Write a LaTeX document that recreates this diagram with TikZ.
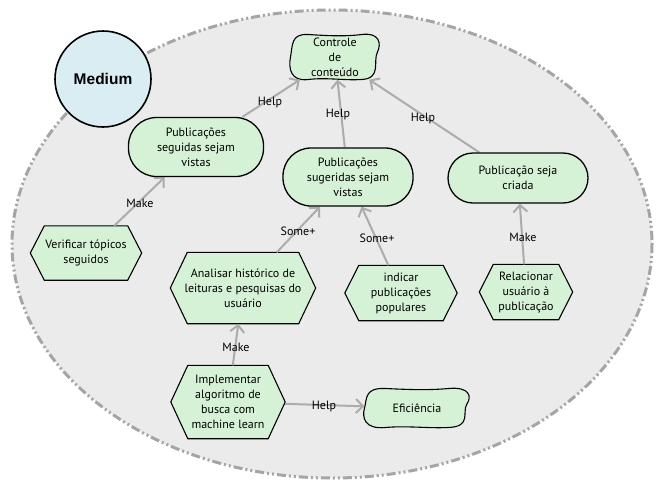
\documentclass[tikz,border=0pt]{standalone}
\usepackage{fontspec}
\setmainfont{PT Sans}
\newfontfamily\medfont{Liberation Sans}
\usetikzlibrary{arrows.meta,shapes.misc,shapes.geometric}
\definecolor{goalfill}{RGB}{214,242,214}
\definecolor{actorfill}{RGB}{217,237,243}
\definecolor{bgfill}{RGB}{235,235,235}
\definecolor{bord}{RGB}{165,165,165}
\definecolor{linkc}{RGB}{172,172,172}
\pgfdeclarelayer{background}
\pgfsetlayers{background,main}
\tikzset{
  txt/.style={font=\fontsize{12}{15}\selectfont, align=center, inner sep=0pt},
  goal/.style={txt, rectangle, rounded corners=28pt, draw=black, line width=1.3pt, fill=goalfill},
  tasknode/.style={txt, rectangle},
  softnode/.style={txt, rectangle},
  shapedraw/.style={draw=black, line width=1.1pt, fill=goalfill},
  link/.style={draw=linkc, line width=2pt, -{Straight Barb[length=7pt,width=14pt]}},
  lbl/.style={font=\fontsize{12}{14}\selectfont, inner sep=0pt},
}
\newcommand\hexa[2]{%
  \draw[shapedraw] ([xshift=#2]#1.north west) -- ([xshift=-#2]#1.north east) -- (#1.east)
    -- ([xshift=-#2]#1.south east) -- ([xshift=#2]#1.south west) -- (#1.west) -- cycle;}
\newcommand\cloud[3]{%
  \draw[shapedraw, shift={(#1.center)}, xscale=#2, yscale=#3]
    (-0.6,-1) .. controls (-0.2,-0.95) and (0.2,-0.9) .. (0.6,-1)
    .. controls (1.0,-1.1) and (1.05,-0.6) .. (0.95,-0.2)
    .. controls (0.85,0.2) and (1.05,0.95) .. (0.6,1)
    .. controls (0.2,1.05) and (-0.2,0.9) .. (-0.6,1)
    .. controls (-1.0,1.1) and (-1.05,0.5) .. (-1,0)
    .. controls (-0.95,-0.5) and (-1.0,-1.05) .. (-0.6,-1) -- cycle;}
\begin{document}
\begin{tikzpicture}[x=1pt,y=-1pt]
\useasboundingbox (0,0) rectangle (656,491);
\begin{pgfonlayer}{background}
  \draw[draw=bord, fill=bgfill, line width=3pt,
        dash pattern=on 9pt off 3pt on 2pt off 3pt on 2pt off 3pt]
    (332,244) ellipse [x radius=320, y radius=234];
\end{pgfonlayer}

% actor
\node[circle, draw=black, line width=1.6pt, fill=actorfill, minimum size=96pt, inner sep=0pt]
  (medium) at (103,79) {\medfont\bfseries\fontsize{15.5}{18}\selectfont Medium};

% softgoals
\node[softnode, minimum width=89pt, minimum height=45pt] (ctrl) at (335,57) {Controle\\de\\conteúdo};
\node[softnode, minimum width=105pt, minimum height=39pt] (efic) at (417,408) {Eficiência};

% goals
\node[goal, minimum width=135pt, minimum height=59pt] (seg) at (196,147) {Publicações\\seguidas sejam\\vistas};
\node[goal, minimum width=130pt, minimum height=58pt] (sug) at (348,177) {Publicações\\sugeridas sejam\\vistas};
\node[goal, rounded corners=25pt, minimum width=140pt, minimum height=50pt] (cri) at (518,178) {Publicação seja\\criada};

% tasks
\node[tasknode, minimum width=111pt, minimum height=54pt] (ver) at (86,253) {Verificar tópicos\\seguidos};
\node[tasknode, minimum width=145pt, minimum height=71pt] (ana) at (243,288) {Analisar histórico de\\leituras e pesquisas do\\usuário};
\node[tasknode, minimum width=112pt, minimum height=55pt] (ind) at (401,293) {indicar\\publicações\\populares};
\node[tasknode, minimum width=93pt, minimum height=55pt] (rel) at (526,292) {Relacionar\\usuário à\\publicação};
\node[tasknode, minimum width=114pt, minimum height=73pt] (imp) at (228,402) {Implementar\\algoritmo de\\busca com\\machine learn};

\begin{pgfonlayer}{background}
  \cloud{ctrl}{44.5}{22.5}
  \cloud{efic}{52.5}{19.5}
  \hexa{ver}{14pt}
  \hexa{ana}{17pt}
  \hexa{ind}{14pt}
  \hexa{rel}{14pt}
  \hexa{imp}{17pt}
\end{pgfonlayer}

% links
\begin{pgfonlayer}{background}
  \draw[link] (ver) -- (seg);
  \draw[link] (seg) -- (ctrl);
  \draw[link] (sug) -- (ctrl);
  \draw[link] (cri) -- (ctrl);
  \draw[link] (ana) -- (sug);
  \draw[link] (ind) -- (sug);
  \draw[link] (rel) -- (cri);
  \draw[link] (imp) -- (ana);
  \draw[link] (imp) -- (efic);
\end{pgfonlayer}

% link labels
\node[lbl] (l1) at (140,203) {Make};
\node[lbl] (l2) at (270,102) {Help};
\node[lbl] (l3) at (338,114) {Help};
\node[lbl] (l4) at (423,118) {Help};
\node[lbl] (l5) at (298,231) {Some+};
\node[lbl] (l6) at (377,238) {Some+};
\node[lbl] (l7) at (523,237) {Make};
\node[lbl] (l8) at (236,347) {Make};
\node[lbl] (l9) at (324,406) {Help};
\end{tikzpicture}
\end{document}
